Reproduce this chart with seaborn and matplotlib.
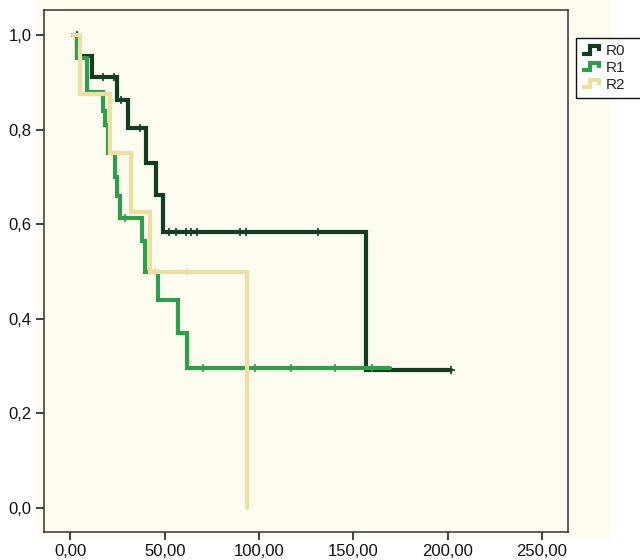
import numpy as np
import pandas as pd
import matplotlib
matplotlib.use("Agg")
import matplotlib.pyplot as plt
from matplotlib.lines import Line2D
from matplotlib.patches import Rectangle
from matplotlib.legend_handler import HandlerBase
import seaborn as sns

# Kaplan-Meier step curves: event times and survival after each event
groups = ["R0", "R1", "R2"]

r0_times = [1.5, 3.4, 11.4, 24.7, 30.5, 40.0, 45.3, 49.0, 156.7, 201.7]
r0_surv = [1.0, 0.955, 0.911, 0.863, 0.803, 0.729, 0.662, 0.583, 0.292, 0.292]

r1_times = [1.5, 3.4, 8.7, 17.2, 18.3, 19.9, 23.6, 24.7, 26.2, 37.9, 39.5,
            46.4, 57.0, 61.8, 169.4]
r1_surv = [1.0, 0.951, 0.879, 0.84, 0.81, 0.75, 0.70, 0.66, 0.613, 0.565,
           0.50, 0.44, 0.37, 0.295, 0.295]

r2_times = [1.5, 5.0, 20.9, 32.1, 42.2, 93.6]
r2_surv = [1.0, 0.875, 0.75, 0.625, 0.5, 0.0]

# censored observations (time, survival level)
r0_cens_t = [3.4, 17.0, 23.0, 27.0, 37.0, 52.0, 56.0, 61.0, 64.0, 67.0, 90.0, 93.0, 131.0, 201.7]
r0_cens_s = [1.0, 0.911, 0.911, 0.863, 0.803, 0.583, 0.583, 0.583, 0.583, 0.583, 0.583, 0.583, 0.583, 0.292]
r1_cens_t = [29.0, 70.0, 98.0, 117.0, 140.0, 160.0]
r1_cens_s = [0.613, 0.295, 0.295, 0.295, 0.295, 0.295]
r2_cens_t = [45.0, 62.0]
r2_cens_s = [0.5, 0.5]

x_ticks = [0, 50, 100, 150, 200, 250]
x_labels = ["0,00", "50,00", "100,00", "150,00", "200,00", "250,00"]
y_ticks = [0.0, 0.2, 0.4, 0.6, 0.8, 1.0]
y_labels = ["0,0", "0,2", "0,4", "0,6", "0,8", "1,0"]

colors = {"R0": "#123d20", "R1": "#2f9e4c", "R2": "#ebe0a2"}
cream = "#fdfcee"

curves = pd.concat([
    pd.DataFrame({"time": r0_times, "surv": r0_surv, "group": "R0"}),
    pd.DataFrame({"time": r1_times, "surv": r1_surv, "group": "R1"}),
    pd.DataFrame({"time": r2_times, "surv": r2_surv, "group": "R2"}),
], ignore_index=True)
censored = pd.concat([
    pd.DataFrame({"time": r0_cens_t, "surv": r0_cens_s, "group": "R0"}),
    pd.DataFrame({"time": r1_cens_t, "surv": r1_cens_s, "group": "R1"}),
    pd.DataFrame({"time": r2_cens_t, "surv": r2_cens_s, "group": "R2"}),
], ignore_index=True)

sns.set_theme(style="ticks")
plt.rcParams["font.family"] = ["Liberation Sans", "DejaVu Sans"]

fig = plt.figure(figsize=(6.4, 5.6), dpi=100)
fig.patch.set_facecolor("white")
fig.patches.append(Rectangle((0.058, 0.039), 0.897, 0.961, transform=fig.transFigure,
                             facecolor=cream, edgecolor="none", zorder=-10))
ax = fig.add_axes([0.068, 0.05, 0.8195, 0.932])
ax.set_facecolor(cream)

for g in groups:
    sub = curves[curves["group"] == g]
    sns.lineplot(data=sub, x="time", y="surv", ax=ax, color=colors[g],
                 drawstyle="steps-post", estimator=None, sort=False,
                 linewidth=3.0, solid_joinstyle="miter", legend=False)
    cs = censored[censored["group"] == g]
    ax.plot(cs["time"], cs["surv"], linestyle="none", marker="+",
            markersize=6, markeredgewidth=1.2, color=colors[g])

ax.set_xlim(-14.3, 263.8)
ax.set_ylim(-0.051, 1.053)
ax.set_xticks(x_ticks)
ax.set_xticklabels(x_labels)
ax.set_yticks(y_ticks)
ax.set_yticklabels(y_labels)
ax.set_xlabel("")
ax.set_ylabel("")
ax.tick_params(axis="both", direction="out", length=5.5, width=1.2, color="#222222",
               labelsize=12, labelcolor="#111111", pad=3)
for sp in ax.spines.values():
    sp.set_visible(True)
    sp.set_color("#333333")
    sp.set_linewidth(1.1)


class StepHandler(HandlerBase):
    def create_artists(self, legend, orig_handle, xdescent, ydescent, width,
                       height, fontsize, trans):
        xs = np.array([0.0, 0.4, 0.4, 0.85, 0.85]) * width - xdescent
        ys = np.array([0.15, 0.15, 0.85, 0.85, 0.35]) * height - ydescent
        ln = Line2D(xs, ys, color=orig_handle.get_color(), linewidth=3.0,
                    solid_joinstyle="miter", solid_capstyle="butt")
        ln.set_transform(trans)
        return [ln]


handles = [Line2D([], [], color=colors[g]) for g in groups]
leg = fig.legend(handles, groups, loc="upper left",
                 bbox_to_anchor=(0.9, 0.0, 0.12, 0.932),
                 bbox_transform=fig.transFigure, mode="expand",
                 handler_map={Line2D: StepHandler()},
                 frameon=True, fancybox=False, framealpha=1.0,
                 edgecolor="#111111", facecolor="white",
                 fontsize=11, handlelength=1.3, handleheight=0.7,
                 handletextpad=0.25, labelspacing=0.18, borderpad=0.4,
                 borderaxespad=0.0)
leg.get_frame().set_linewidth(1.0)

fig.savefig("out.png", dpi=100)
